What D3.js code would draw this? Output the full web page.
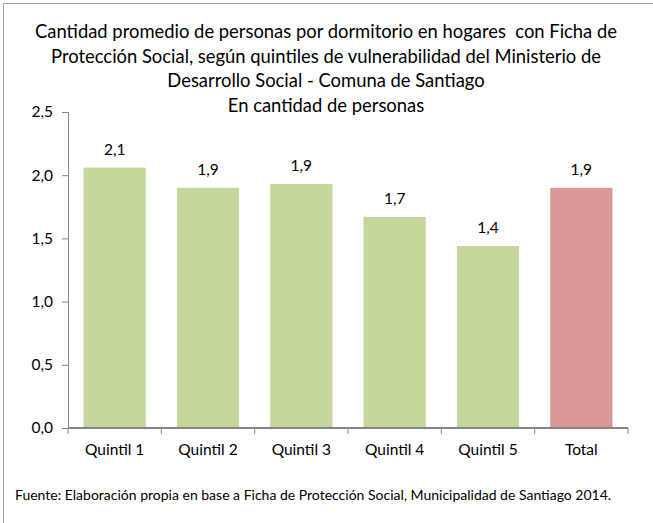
<!DOCTYPE html>
<html>
<head>
<meta charset="utf-8">
<script src="https://cdn.jsdelivr.net/npm/d3@7"></script>
<style>
  body { margin: 0; background: #fff; }
  text { font-family: Lato, "Open Sans", sans-serif; fill: #000; }
</style>
</head>
<body>
<svg id="chart" width="653" height="523"></svg>
<script>
// chart data
const categories = ["Quintil 1", "Quintil 2", "Quintil 3", "Quintil 4", "Quintil 5", "Total"];
const values = [2.06, 1.9, 1.93, 1.67, 1.44, 1.9];
const barColors = ["#c3d69b", "#c3d69b", "#c3d69b", "#c3d69b", "#c3d69b", "#d99694"];
const yTicks = [0, 0.5, 1, 1.5, 2, 2.5];
const titleLines = [
  "Cantidad promedio de personas por dormitorio en hogares  con Ficha de",
  "Protección Social, según quintiles de vulnerabilidad del Ministerio de",
  "Desarrollo Social - Comuna de Santiago",
  "En cantidad de personas"
];
const footer = "Fuente: Elaboración propia en base a Ficha de Protección Social, Municipalidad de Santiago 2014.";

const svg = d3.select("#chart");
var margin = {top: 112, left: 68, right: 25, bottom: 95},
    width = 653 - margin.left - margin.right,
    height = 523 - margin.top - margin.bottom;

// outer frame
svg.append("rect")
    .attr("x", 3.5).attr("y", 3.5)
    .attr("width", 700).attr("height", 600)
    .attr("fill", "none")
    .attr("stroke", "#a6a6a6");

// title
svg.append("g").selectAll("text")
    .data(titleLines)
    .enter()
    .append("text")
    .attr("x", 326)
    .attr("y", (d, i) => 38 + i * 24.7)
    .attr("text-anchor", "middle")
    .style("font-size", "18.4px")
    .style("white-space", "pre")
    .text(d => d);

const g = svg.append("g")
    .attr("transform", "translate(" + margin.left + "," + margin.top + ")");

var x = d3.scaleBand()
    .domain(categories)
    .range([0, width])
    .paddingInner(1 / 3)
    .paddingOuter(1 / 6);

var y = d3.scaleLinear()
    .domain([0, 2.5])
    .range([height, 0]);

const fmt = v => d3.format(".1f")(v).replace(".", ",");

// y axis
const yAxis = g.append("g")
    .call(d3.axisLeft(y).tickValues(yTicks).tickSize(6).tickPadding(9).tickFormat(fmt));
yAxis.select(".domain").attr("stroke", "#868686");
yAxis.selectAll(".tick line").attr("stroke", "#868686");
yAxis.selectAll(".tick text").style("font-size", "15.5px").style("font-family", "Lato, sans-serif");

// bars
g.append("g")
    .selectAll("rect")
    .data(values)
    .enter()
    .append("rect")
    .attr("x", (d, i) => x(categories[i]))
    .attr("y", d => y(d))
    .attr("width", x.bandwidth())
    .attr("height", d => height - y(d))
    .attr("fill", (d, i) => barColors[i]);

// value labels
g.append("g")
    .selectAll("text")
    .data(values)
    .enter()
    .append("text")
    .attr("x", (d, i) => x(categories[i]) + x.bandwidth() / 2)
    .attr("y", d => y(d) - 13)
    .attr("text-anchor", "middle")
    .style("font-size", "15.5px")
    .text(d => fmt(d));

// x axis: ticks between categories
const step = x.step();
const xAxis = g.append("g")
    .attr("transform", "translate(0," + height + ")");
xAxis.append("line")
    .attr("x1", 0).attr("x2", width)
    .attr("stroke", "#868686").attr("stroke-width", 2);
xAxis.selectAll(".sep")
    .data(d3.range(categories.length + 1))
    .enter()
    .append("line")
    .attr("x1", i => i * step).attr("x2", i => i * step)
    .attr("y1", 0).attr("y2", 6)
    .attr("stroke", "#868686");
xAxis.selectAll(".lbl")
    .data(categories)
    .enter()
    .append("text")
    .attr("x", d => x(d) + x.bandwidth() / 2)
    .attr("y", 27)
    .attr("text-anchor", "middle")
    .style("font-size", "15.5px")
    .text(d => d);

// source
svg.append("text")
    .attr("x", 15)
    .attr("y", 500)
    .style("font-size", "14px")
    .text(footer);
</script>
</body>
</html>
